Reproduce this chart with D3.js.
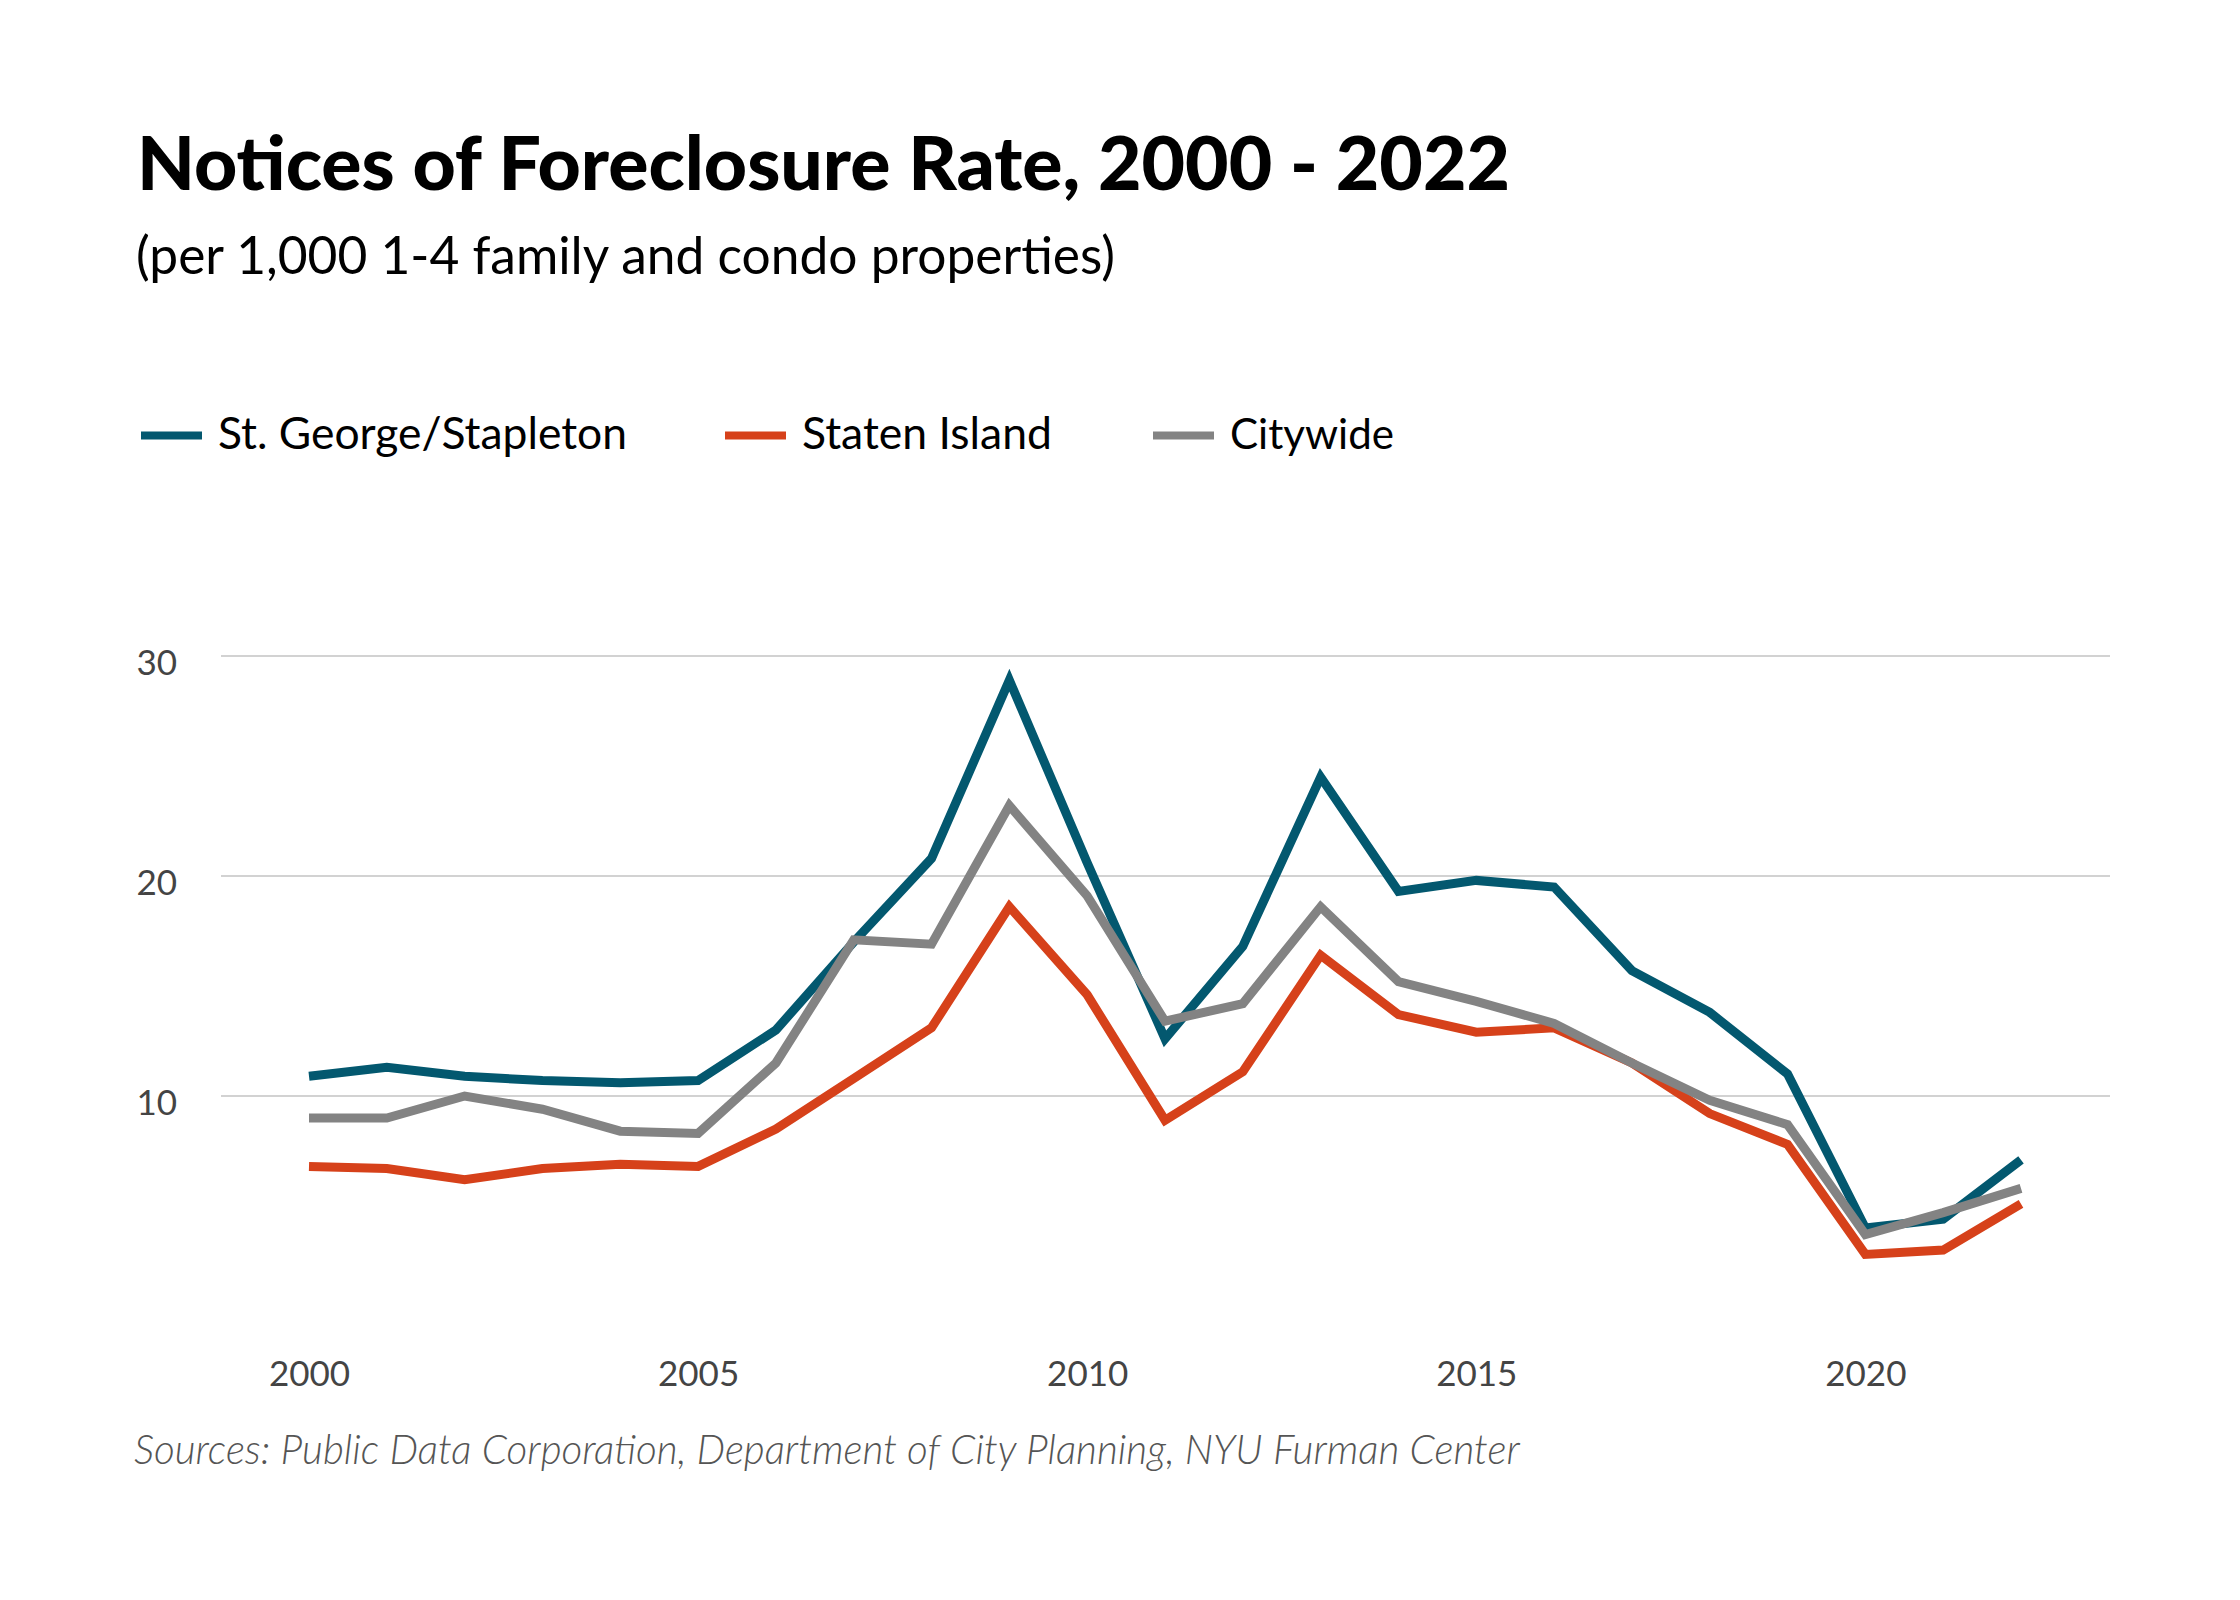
<!DOCTYPE html>
<html>
<head>
<meta charset="utf-8">
<script src="https://cdn.jsdelivr.net/npm/d3@7"></script>
<style>
  html, body { margin: 0; padding: 0; background: #ffffff; }
  svg { display: block; }
</style>
</head>
<body>
<svg id="chart" width="2240" height="1600"></svg>
<script>
const years = [2000,2001,2002,2003,2004,2005,2006,2007,2008,2009,2010,2011,2012,2013,2014,2015,2016,2017,2018,2019,2020,2021,2022];
const stGeorge = [10.9,11.3,10.9,10.7,10.6,10.7,13.0,17.0,20.8,28.9,20.6,12.6,16.8,24.5,19.3,19.8,19.5,15.7,13.8,11.0,4.0,4.4,7.1];
const statenIsland = [6.8,6.7,6.2,6.7,6.9,6.8,8.5,10.8,13.1,18.6,14.6,8.9,11.1,16.4,13.7,12.9,13.1,11.5,9.2,7.8,2.8,3.0,5.1];
const citywide = [9.0,9.0,10.0,9.4,8.4,8.3,11.5,17.1,16.9,23.2,19.1,13.4,14.2,18.6,15.2,14.3,13.3,11.5,9.8,8.7,3.7,4.7,5.8];
const seriesNames = ["St. George/Stapleton","Staten Island","Citywide"];
const seriesColors = ["#03586f","#d6411a","#838383"];
const yTicks = [10,20,30];
const xTicks = [2000,2005,2010,2015,2020];
const titleText = "Notices of Foreclosure Rate, 2000 - 2022";
const subtitleText = "(per 1,000 1-4 family and condo properties)";
const sourceText = "Sources: Public Data Corporation, Department of City Planning, NYU Furman Center";

const svg = d3.select("#chart");
const FONT = "Lato, 'Noto Sans', sans-serif";

function fit(sel, target) {
  const w = sel.node().getComputedTextLength();
  const fs = parseFloat(sel.attr("font-size"));
  if (w > 0) sel.attr("font-size", (fs * target / w).toFixed(2));
}

// Title & subtitle
const title = svg.append("text").attr("x", 137).attr("y", 190)
  .attr("font-family", FONT).attr("font-weight", 900).attr("font-size", 62)
  .attr("fill", "#000").text(titleText);
fit(title, 1373);

const subtitle = svg.append("text").attr("x", 136).attr("y", 274)
  .attr("font-family", FONT).attr("font-weight", 400).attr("font-size", 45)
  .attr("fill", "#000").text(subtitleText);
fit(subtitle, 979);

// Legend
const legendX = [141, 725, 1153];
const legendTextW = [409, 250, 164];
seriesNames.forEach((name, i) => {
  svg.append("line").attr("x1", legendX[i]).attr("x2", legendX[i] + 61)
    .attr("y1", 435.5).attr("y2", 435.5)
    .attr("stroke", seriesColors[i]).attr("stroke-width", 8);
  const t = svg.append("text").attr("x", legendX[i] + 77).attr("y", 449)
    .attr("font-family", FONT).attr("font-size", 38).attr("fill", "#000").text(name);
  fit(t, legendTextW[i]);
});

// Scales
const x = d3.scaleLinear().domain([2000, 2022]).range([309, 2021]);
const y = d3.scaleLinear().domain([0, 30]).range([1316, 656]);

// Gridlines
const grid = svg.append("g");
grid.selectAll("line").data(yTicks).join("line")
  .attr("x1", 221).attr("x2", 2110)
  .attr("y1", d => y(d)).attr("y2", d => y(d))
  .attr("stroke", "#d2d2d2").attr("stroke-width", 2);

// Y axis labels
const yAxis = d3.axisLeft(y).tickValues(yTicks).tickSize(0).tickPadding(0).tickFormat(d3.format("d"));
const yg = svg.append("g").attr("transform", "translate(177,0)").call(yAxis);
yg.select(".domain").remove();
yg.selectAll("text").attr("font-family", FONT).attr("font-size", 35)
  .attr("fill", "#444").attr("dy", "0.52em");

// X axis labels
const xAxis = d3.axisBottom(x).tickValues(xTicks).tickSize(0).tickPadding(0).tickFormat(d3.format("d"));
const xg = svg.append("g").attr("transform", "translate(0,1370)").call(xAxis);
xg.select(".domain").remove();
xg.selectAll("text").attr("font-family", FONT).attr("font-size", 35)
  .attr("fill", "#444").attr("dy", "0.45em");

// Lines: St. George first, then Staten Island, Citywide on top
const line = d3.line().x((d, i) => x(years[i])).y(d => y(d));
const drawOrder = [0, 1, 2];
const seriesData = [stGeorge, statenIsland, citywide];
svg.append("g").selectAll("path").data(drawOrder).join("path")
  .attr("d", i => line(seriesData[i]))
  .attr("fill", "none")
  .attr("stroke", i => seriesColors[i])
  .attr("stroke-width", 9)
  .attr("stroke-linejoin", "miter")
  .attr("stroke-miterlimit", 10);

// Source
const src = svg.append("text").attr("x", 134).attr("y", 1464)
  .attr("font-family", FONT).attr("font-style", "italic").attr("font-weight", 300)
  .attr("font-size", 36).attr("fill", "#555").text(sourceText);
fit(src, 1386);
</script>
</body>
</html>
